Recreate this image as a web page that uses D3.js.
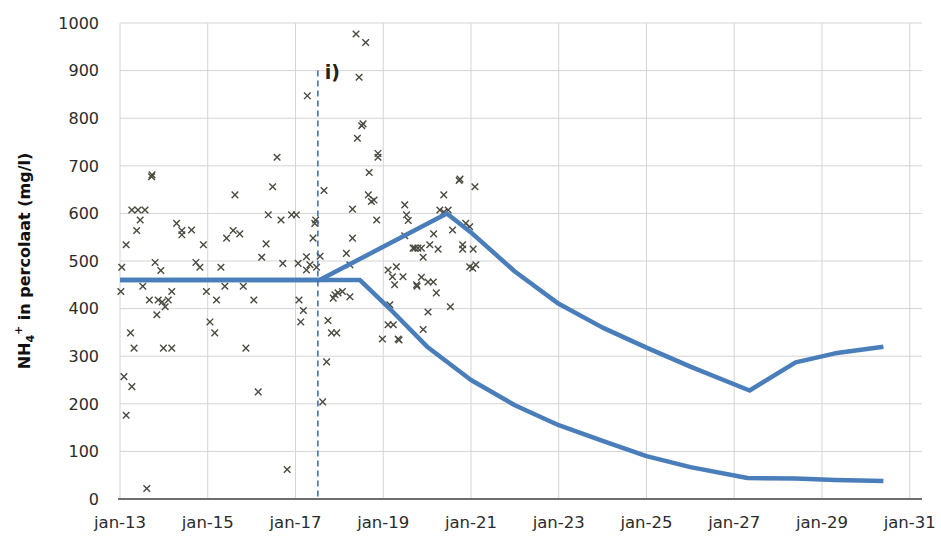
<!DOCTYPE html>
<html>
<head>
<meta charset="utf-8">
<script src="https://cdn.jsdelivr.net/npm/d3@7/dist/d3.min.js"></script>
<style>
  html, body { margin: 0; padding: 0; background: #fff; }
  svg { display: block; }
</style>
</head>
<body>
<svg id="chart" width="941" height="546"></svg>
<script>
// ---- data ----
const xTickYears = [2013, 2015, 2017, 2019, 2021, 2023, 2025, 2027, 2029, 2031];
const xTickLabels = ["jan-13", "jan-15", "jan-17", "jan-19", "jan-21", "jan-23", "jan-25", "jan-27", "jan-29", "jan-31"];
const yTicks = [0, 100, 200, 300, 400, 500, 600, 700, 800, 900, 1000];

// measured NH4+ (decimal year, mg/l)
const measYears = [
  2013.72, 2013.73, 2013.27, 2013.41, 2013.57, 2013.46, 2013.38, 2013.14, 2014.29, 2014.41,
  2014.63, 2014.41, 2014.90, 2015.43, 2015.58, 2015.73, 2015.62, 2016.48, 2016.58, 2016.38,
  2016.67, 2016.91, 2017.02, 2016.33, 2016.23, 2013.04, 2013.80, 2013.93, 2014.73, 2014.82,
  2015.30, 2016.71, 2017.06, 2017.25, 2017.25, 2013.52, 2013.02, 2014.18, 2014.97, 2015.39,
  2015.81, 2013.67, 2013.87, 2013.96, 2014.10, 2014.03, 2015.20, 2016.05, 2017.08, 2013.84,
  2015.05, 2017.18, 2017.12, 2015.16, 2013.24, 2013.32, 2013.99, 2014.18, 2013.09, 2013.27,
  2013.14, 2013.61, 2017.56, 2017.48, 2017.74, 2017.82, 2017.94, 2015.87, 2017.71, 2016.15,
  2017.62, 2016.81, 2017.90, 2017.27, 2017.65, 2017.44, 2017.46, 2017.40, 2018.38, 2018.60,
  2018.45, 2018.51, 2018.54, 2018.41, 2018.88, 2018.88, 2018.68, 2018.66, 2018.73, 2018.79,
  2018.30, 2018.85, 2019.49, 2019.53, 2019.57, 2018.30, 2018.16, 2019.49, 2019.72, 2017.33,
  2018.24, 2019.11, 2019.30, 2019.21, 2019.45, 2019.26, 2019.76, 2017.86, 2017.97, 2018.07,
  2018.24, 2019.15, 2019.11, 2019.23, 2018.98, 2019.34, 2020.73, 2020.75, 2021.09, 2020.38,
  2020.29, 2020.38, 2020.48, 2020.58, 2020.88, 2020.97, 2020.15, 2019.68, 2019.79, 2019.87,
  2020.06, 2020.25, 2019.91, 2020.81, 2020.81, 2021.05, 2020.97, 2021.04, 2021.11, 2019.77,
  2019.87, 2020.02, 2020.14, 2020.21, 2020.53, 2020.02, 2019.91, 2019.36
];
const measValues = [
  677, 681, 607, 607, 607, 586, 564, 534, 579, 564,
  565, 555, 534, 548, 564, 557, 639, 656, 718, 597,
  586, 597, 597, 536, 508, 487, 497, 480, 497, 487,
  487, 495, 495, 509, 481, 447, 436, 436, 436, 447,
  447, 418, 418, 414, 418, 404, 418, 418, 418, 387,
  372, 396, 372, 349, 349, 317, 317, 317, 257, 236,
  176, 22, 510, 487, 375, 349, 349, 317, 288, 225,
  204, 62, 429, 847, 648, 579, 586, 548, 977, 959,
  886, 784, 788, 758, 726, 718, 686, 639, 625, 628,
  609, 586, 618, 597, 585, 548, 516, 553, 527, 492,
  492, 481, 488, 467, 467, 450, 450, 422, 433, 436,
  425, 408, 366, 366, 336, 336, 669, 672, 656, 639,
  607, 603, 607, 565, 579, 572, 557, 527, 527, 527,
  534, 525, 508, 534, 525, 525, 488, 485, 492, 447,
  466, 456, 456, 433, 404, 393, 356, 334
];

// model scenario lines
const upperYears = [2013.0, 2017.55, 2020.45, 2021.0, 2022.0, 2023.0, 2024.0, 2025.0, 2026.0, 2027.35, 2028.4, 2029.3, 2030.4];
const upperValues = [460, 460, 600, 560, 478, 410, 360, 318, 278, 228, 287, 306, 320];
const lowerYears = [2013.0, 2018.47, 2019.2, 2020.0, 2021.0, 2022.0, 2023.0, 2024.0, 2025.0, 2026.0, 2027.3, 2028.4, 2029.3, 2030.4];
const lowerValues = [460, 460, 395, 320, 250, 197, 155, 122, 90, 67, 44, 43, 40, 38];

const markerYear = 2017.51;   // vertical reference i)
const markerTop = 900;

// ---- chart ----
const svg = d3.select("#chart");
const plot = { left: 120, right: 922, top: 23, bottom: 499 };

const x = d3.scaleLinear().domain([2013, 2031.28]).range([plot.left, plot.right]);
const y = d3.scaleLinear().domain([0, 1000]).range([plot.bottom, plot.top]);

const fontFam = "'DejaVu Sans', Verdana, sans-serif";

// horizontal gridlines
svg.append("g").selectAll("line").data(yTicks.filter(d => d > 0)).join("line")
  .attr("x1", plot.left).attr("x2", plot.right)
  .attr("y1", d => y(d)).attr("y2", d => y(d))
  .attr("stroke", "#d4d4d4").attr("stroke-width", 1);

// vertical gridlines
svg.append("g").selectAll("line").data(xTickYears).join("line")
  .attr("x1", d => x(d)).attr("x2", d => x(d))
  .attr("y1", plot.top).attr("y2", plot.bottom)
  .attr("stroke", "#d4d4d4").attr("stroke-width", 1);

// x axis line
svg.append("line")
  .attr("x1", plot.left - 2).attr("x2", plot.right)
  .attr("y1", plot.bottom).attr("y2", plot.bottom)
  .attr("stroke", "#6e6e6e").attr("stroke-width", 2);

// x tick labels
svg.append("g").selectAll("text").data(xTickYears).join("text")
  .attr("x", d => x(d)).attr("y", plot.bottom + 29)
  .attr("text-anchor", "middle")
  .attr("font-family", fontFam).attr("font-size", 16.5).attr("fill", "#2b2b2b")
  .text((d, i) => xTickLabels[i]);

// y tick labels
svg.append("g").selectAll("text").data(yTicks).join("text")
  .attr("x", plot.left - 21).attr("y", d => y(d))
  .attr("dy", "0.36em")
  .attr("text-anchor", "end")
  .attr("font-family", fontFam).attr("font-size", 16).attr("fill", "#2b2b2b")
  .text(d => d);

// y axis title
const yt = svg.append("text")
  .attr("transform", `translate(30, ${(plot.top + plot.bottom) / 2}) rotate(-90)`)
  .attr("text-anchor", "middle")
  .attr("font-family", fontFam).attr("font-size", 16).attr("font-weight", "bold").attr("fill", "#111");
yt.append("tspan").text("NH");
yt.append("tspan").attr("font-size", 11).attr("dy", 4).text("4");
yt.append("tspan").attr("font-size", 11).attr("dy", -12).text("+");
yt.append("tspan").attr("dy", 8).text(" in percolaat (mg/l)");

// measured points (x markers)
const pts = measYears.map((yr, i) => [yr, measValues[i]]);
const s = 3.3;
const mk = svg.append("g").attr("stroke", "#4a4a40").attr("stroke-width", 1.4).attr("fill", "none");
mk.selectAll("path").data(pts).join("path")
  .attr("d", d => {
    const cx = x(d[0]), cy = y(d[1]);
    return `M${cx - s},${cy - s}L${cx + s},${cy + s}M${cx - s},${cy + s}L${cx + s},${cy - s}`;
  });

// model lines
const line = d3.line().x(d => x(d[0])).y(d => y(d[1]));
const upper = upperYears.map((yr, i) => [yr, upperValues[i]]);
const lower = lowerYears.map((yr, i) => [yr, lowerValues[i]]);
svg.append("path").datum(lower).attr("d", line)
  .attr("fill", "none").attr("stroke", "#4a7ebb").attr("stroke-width", 4.5)
  .attr("stroke-linejoin", "round");
svg.append("path").datum(upper).attr("d", line)
  .attr("fill", "none").attr("stroke", "#4a7ebb").attr("stroke-width", 4.5)
  .attr("stroke-linejoin", "round");

// vertical dashed reference
svg.append("line")
  .attr("x1", x(markerYear)).attr("x2", x(markerYear))
  .attr("y1", y(markerTop)).attr("y2", plot.bottom)
  .attr("stroke", "#3b6aa8").attr("stroke-width", 1.5)
  .attr("stroke-dasharray", "6,4");

svg.append("text")
  .attr("x", x(markerYear) + 7).attr("y", y(markerTop) + 8)
  .attr("font-family", fontFam).attr("font-size", 19).attr("font-weight", "bold").attr("fill", "#222")
  .text("i)");
</script>
</body>
</html>
